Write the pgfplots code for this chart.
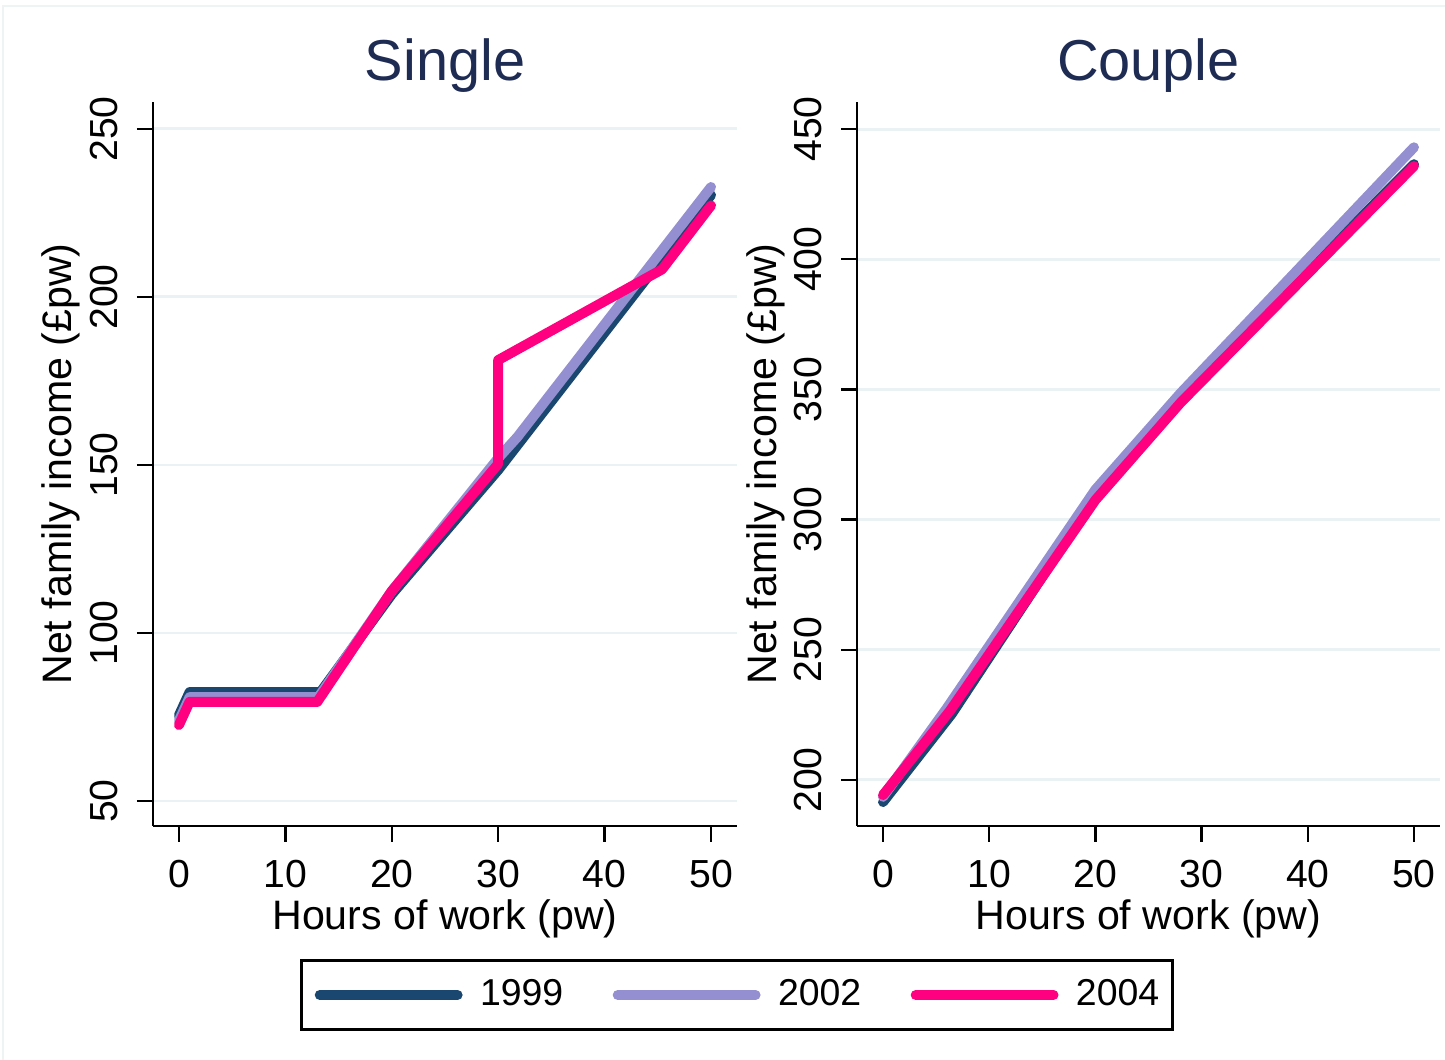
\documentclass[border=0pt]{standalone}
\usepackage{fontspec}
\setmainfont{Liberation Sans}
\usepackage{pgfplots}
\pgfplotsset{compat=1.18}
\definecolor{c99}{RGB}{26,71,111}
\definecolor{c02}{RGB}{147,143,208}
\definecolor{c04}{RGB}{255,0,128}
\definecolor{ttl}{RGB}{30,43,83}
\definecolor{grd}{RGB}{234,242,243}
\def\s{0.35pt}
\pgfplotsset{
 stata/.style={
  scale only axis, height=253.4pt,
  axis x line*=bottom, axis y line*=left,
  axis line style={-, line width=0.8pt, black},
  tick align=outside, major tick length=5.6pt,
  tick style={line width=0.8pt, black},
  ymajorgrids, grid style={grd, line width=1pt},
  xtick={0,10,...,50},
  tick label style={font=\fontsize{13.7}{16}\selectfont},
  /pgf/number format/assume math mode=true,
  yticklabel style={rotate=90, anchor=south, inner sep=0pt},
  xticklabel style={anchor=north, inner sep=0pt},
  xticklabel shift=6.3pt, yticklabel shift=6.65pt,
  label style={font=\fontsize{14.4}{17}\selectfont},
  xlabel={Hours of work (pw)}, ylabel={Net family income (£pw)},
  xlabel style={at={(axis description cs:0.5,0)}, anchor=base, yshift=-36.4pt},
  ylabel style={at={(axis description cs:-0.1387,0.5)}, anchor=base},
  title style={at={(axis description cs:0.5,1)}, anchor=base, yshift=1.4pt,
     font=\fontsize{20.2}{23}\selectfont, text=ttl},
  every axis plot/.append style={line width=3.5pt, line join=round, line cap=round},
  legend image code/.code={\draw[##1] (1.75pt,0pt) -- (50pt,0pt);},
 }
}
\begin{document}
\begin{tikzpicture}
\path[use as bounding box] (0,0) rectangle (1445*\s,-1060*\s);
\draw[color={rgb,255:red,238;green,243;blue,243}, line width=0.5pt] (3*\s,-1060*\s) -- (3*\s,-6*\s) -- (1445*\s,-6*\s);
\begin{axis}[stata, at={(153*\s,-102*\s)}, anchor=north west,
  width=204.4pt, xmin=-2.44, xmax=52.44, ymin=42.56, ymax=258.0,
  ytick={50,100,...,250}, title={Single},
  legend columns=3,
  legend style={at={(axis description cs:1.0,-0.2334)}, anchor=center,
    draw=black, line width=0.8pt, inner xsep=4.6pt, inner ysep=6.75pt,
    font=\fontsize{13.1}{15}\selectfont,
    nodes={inner sep=0pt},
    /tikz/every odd column/.append style={column sep=6.1pt},
    /tikz/every even column/.append style={column sep=17.3pt}},
]
\addplot[c99] coordinates {(0,75.5) (1,82.4) (13.3,82.4) (20,111.5) (30,148.5) (50,230.3)};
\addplot[c02] coordinates {(0,74) (1,80.9) (13.1,80.9) (20,112.5) (30,152) (31.8,158.3) (50,232.7)};
\addplot[c04] coordinates {(0,72.6) (1,79.5) (13,79.5) (20,112.5) (30,150.3) (30,181.2) (45.4,208.2) (50,227.2)};
\legend{1999,2002,2004}
\end{axis}
\begin{axis}[stata, at={(857*\s,-102*\s)}, anchor=north west,
  width=204.05pt, xmin=-2.45, xmax=52.45, ymin=182.3, ymax=460.4,
  ytick={200,250,...,450}, title={Couple},
]
\addplot[c99] coordinates {(0,191.5) (6.5,225.5) (20,309) (28,346.5) (50,436.5)};
\addplot[c02] coordinates {(0,193.5) (6,227.5) (20,311.5) (28,348.5) (50,443)};
\addplot[c04] coordinates {(0,194.2) (6.3,226.5) (20,307.5) (28,344.8) (50,435.8)};
\end{axis}
\end{tikzpicture}
\end{document}
